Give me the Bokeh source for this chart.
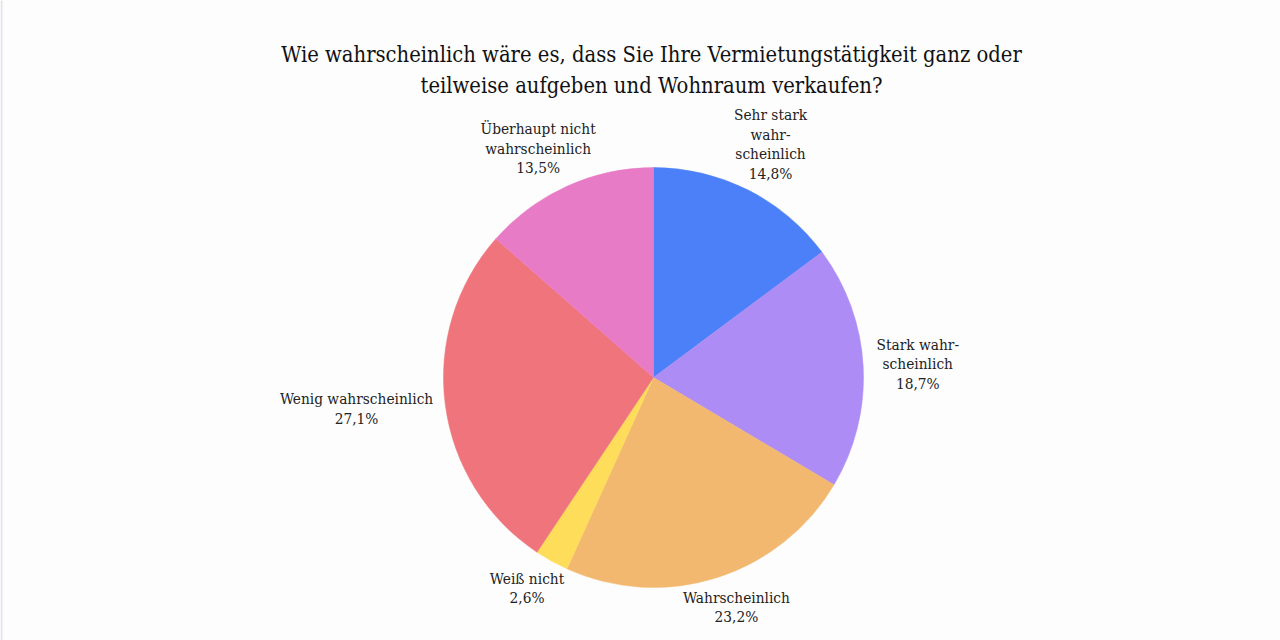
import math
from bokeh.plotting import figure
from bokeh.models import ColumnDataSource, Label
from bokeh.core.properties import value
from bokeh.embed import file_html
from bokeh.resources import INLINE

title_lines = ["Wie wahrscheinlich wäre es, dass Sie Ihre Vermietungstätigkeit ganz oder",
               "teilweise aufgeben und Wohnraum verkaufen?"]
categories = ["Sehr stark\nwahr-\nscheinlich", "Stark wahr-\nscheinlich", "Wahrscheinlich",
              "Weiß nicht", "Wenig wahrscheinlich", "Überhaupt nicht\nwahrscheinlich"]
values = [14.8, 18.7, 23.2, 2.6, 27.1, 13.5]
colors = ["#4b80f8", "#ad8df5", "#f3b86f", "#fedd5b", "#ef747c", "#e87bc6"]

W, H = 1280, 640
CX, CY = 653, 377   # pie centre in screen px
RADIUS = 210
LABEL_R = 222
FONT_PX = 15.3
LINE_PX = 19.4
CHAR_PX = 7.75

total = sum(values)
starts, ends = [], []
lx, ly, ltext = [], [], []
cum = 0.0
for cat, v in zip(categories, values):
    a0 = cum / total
    cum += v
    a1 = cum / total
    starts.append(math.pi / 2 - a0 * 2 * math.pi)
    ends.append(math.pi / 2 - a1 * 2 * math.pi)
    mid = (a0 + a1) / 2 * 2 * math.pi  # clockwise from top
    s, c = math.sin(mid), math.cos(mid)
    lines = cat.split("\n") + [f"{v:.1f}".replace(".", ",") + "%"]
    w = max(len(l) for l in lines) * CHAR_PX
    h = len(lines) * LINE_PX
    bx = LABEL_R * s + s * w / 2
    by = LABEL_R * c + c * h / 2
    n = len(lines)
    for i, line in enumerate(lines):
        lx.append(bx)
        ly.append(by + (n - 1) / 2 * LINE_PX - i * LINE_PX)
        ltext.append(line)

src = ColumnDataSource(dict(start=starts, end=ends, color=colors))
lsrc = ColumnDataSource(dict(x=lx, y=ly, text=ltext))

p = figure(width=W, height=H, output_backend="svg", toolbar_location=None,
           x_range=(-CX, W - CX), y_range=(-(H - CY), CY), min_border=0,
           background_fill_color="#fdfdfd", border_fill_color="#fdfdfd")
p.axis.visible = False
p.grid.visible = False
p.outline_line_color = None

p.wedge(x=0, y=0, radius=RADIUS, start_angle="start", end_angle="end", direction="clock",
        fill_color="color", line_color="color", line_width=0.5, source=src)

p.text(x="x", y="y", text="text", source=lsrc, text_align="center", text_baseline="middle",
       text_font=value("DejaVu Serif Condensed"), text_font_size=f"{FONT_PX}px",
       text_color="#222222")

for i, t in enumerate(title_lines):
    p.add_layout(Label(x=W / 2 + 11, y=H - 54 - i * 31, x_units="screen", y_units="screen",
                       text=t, text_align="center", text_baseline="middle",
                       text_font="DejaVu Serif Condensed", text_font_size="21.8px",
                       text_color="#111111"))

# thin page edge on the left
p.quad(left=-CX, right=-CX + 2, bottom=-(H - CY), top=CY, fill_color="#e4e4ec", line_color=None)

open("out.html", "w").write(file_html(p, INLINE))
